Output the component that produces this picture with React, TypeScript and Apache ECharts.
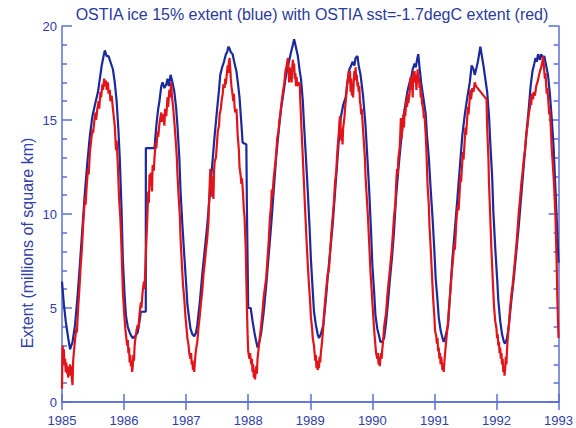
import React, { useEffect, useRef } from "react";
import * as echarts from "echarts";

const titleText = "OSTIA ice 15% extent (blue) with OSTIA sst=-1.7degC extent (red)";
const yAxisTitle = "Extent (millions of square km)";
const xTickLabels = ["1985", "1986", "1987", "1988", "1989", "1990", "1991", "1992", "1993"];
const yTickLabels = ["0", "5", "10", "15", "20"];

// OSTIA ice 15% extent (blue), [decimal year, millions of km²]
const iceExtent: [number, number][] = [
  [1985.00, 6.4], [1985.03, 5.2], [1985.06, 4.3], [1985.10, 3.4], [1985.13, 2.8], [1985.17, 3.2], [1985.21, 4.1], [1985.25, 5.6], [1985.29, 7.4], [1985.33, 9.3], [1985.37, 11.2], [1985.41, 12.8], [1985.45, 14.2], [1985.49, 15.2], [1985.53, 15.8], [1985.58, 16.5], [1985.61, 17.2], [1985.64, 17.9], [1985.67, 18.4], [1985.69, 18.7], [1985.72, 18.4], [1985.75, 18.4], [1985.78, 18.1], [1985.82, 17.7], [1985.85, 17.0], [1985.88, 16.0], [1985.91, 14.4], [1985.93, 13.0], [1985.96, 10.2], [1985.98, 7.6],
  [1986.01, 5.6], [1986.03, 4.6], [1986.06, 4.0], [1986.09, 3.7], [1986.12, 3.5], [1986.14, 3.4], [1986.18, 3.5], [1986.22, 3.7], [1986.25, 4.3], [1986.27, 4.8], [1986.35, 4.8], [1986.351, 13.5], [1986.49, 13.5], [1986.52, 14.7], [1986.55, 15.6], [1986.57, 16.0], [1986.60, 16.8], [1986.62, 17.0], [1986.65, 16.7], [1986.68, 16.9], [1986.70, 17.2], [1986.72, 16.8], [1986.75, 17.4], [1986.78, 17.0], [1986.81, 16.5], [1986.84, 15.6], [1986.86, 14.7], [1986.89, 13.0], [1986.91, 11.2], [1986.94, 9.4], [1986.97, 7.8],
  [1987.00, 6.3], [1987.02, 5.2], [1987.05, 4.4], [1987.07, 3.9], [1987.10, 3.6], [1987.13, 3.5], [1987.16, 3.7], [1987.18, 4.1], [1987.22, 5.3], [1987.26, 6.8], [1987.30, 8.1], [1987.34, 9.4], [1987.38, 11.0], [1987.42, 12.6], [1987.46, 14.2], [1987.50, 15.6], [1987.53, 16.6], [1987.55, 17.4], [1987.58, 17.8], [1987.61, 18.1], [1987.64, 18.5], [1987.66, 18.6], [1987.68, 18.9], [1987.70, 18.8], [1987.72, 18.6], [1987.75, 18.5], [1987.78, 18.0], [1987.81, 17.6], [1987.84, 16.8], [1987.86, 16.2], [1987.89, 14.8], [1987.91, 13.8], [1987.97, 13.7], [1987.98, 10.1],
  [1988.00, 5.0], [1988.04, 5.0], [1988.07, 4.3], [1988.10, 3.7], [1988.13, 3.2], [1988.15, 2.9], [1988.18, 3.2], [1988.21, 3.7], [1988.25, 4.8], [1988.29, 6.2], [1988.33, 7.8], [1988.37, 9.4], [1988.41, 11.2], [1988.45, 13.0], [1988.49, 14.4], [1988.53, 15.6], [1988.57, 16.5], [1988.61, 17.4], [1988.65, 18.0], [1988.69, 18.6], [1988.72, 19.0], [1988.74, 19.3], [1988.76, 19.0], [1988.78, 18.7], [1988.80, 18.4], [1988.83, 17.6], [1988.85, 17.2], [1988.88, 16.0], [1988.90, 14.7], [1988.93, 13.0], [1988.96, 11.2], [1988.99, 9.2],
  [1989.01, 7.6], [1989.04, 5.9], [1989.06, 4.8], [1989.09, 4.1], [1989.12, 3.6], [1989.14, 3.4], [1989.17, 3.6], [1989.21, 4.1], [1989.25, 5.4], [1989.28, 6.6], [1989.32, 8.0], [1989.36, 9.4], [1989.40, 11.2], [1989.44, 13.0], [1989.47, 14.4], [1989.49, 15.1], [1989.53, 15.8], [1989.57, 16.2], [1989.60, 17.0], [1989.63, 17.7], [1989.66, 17.9], [1989.68, 18.1], [1989.71, 17.9], [1989.73, 18.3], [1989.76, 18.4], [1989.78, 17.9], [1989.81, 17.4], [1989.85, 16.3], [1989.89, 14.7], [1989.92, 13.0], [1989.95, 11.2], [1989.98, 9.0],
  [1990.00, 7.3], [1990.03, 5.8], [1990.05, 4.6], [1990.08, 3.9], [1990.11, 3.5], [1990.13, 3.2], [1990.16, 3.2], [1990.19, 3.4], [1990.22, 4.2], [1990.25, 5.2], [1990.28, 6.4], [1990.32, 7.8], [1990.35, 9.1], [1990.38, 10.8], [1990.42, 12.4], [1990.46, 13.8], [1990.50, 15.1], [1990.54, 16.0], [1990.57, 16.6], [1990.60, 17.0], [1990.63, 17.3], [1990.65, 17.7], [1990.68, 18.0], [1990.70, 17.8], [1990.72, 18.2], [1990.74, 18.5], [1990.76, 17.8], [1990.79, 16.9], [1990.83, 16.0], [1990.86, 15.3], [1990.88, 14.2], [1990.91, 13.0], [1990.94, 11.3], [1990.97, 9.8],
  [1991.00, 8.0], [1991.02, 6.6], [1991.05, 5.4], [1991.07, 4.5], [1991.10, 3.8], [1991.13, 3.4], [1991.15, 3.2], [1991.18, 3.5], [1991.22, 4.1], [1991.25, 5.6], [1991.29, 7.6], [1991.33, 9.2], [1991.37, 10.8], [1991.41, 12.5], [1991.45, 14.2], [1991.49, 15.3], [1991.53, 16.2], [1991.57, 17.0], [1991.60, 17.9], [1991.63, 17.7], [1991.65, 17.4], [1991.68, 17.8], [1991.70, 18.1], [1991.72, 18.5], [1991.74, 18.9], [1991.76, 18.5], [1991.79, 17.9], [1991.82, 17.2], [1991.85, 16.5], [1991.88, 15.2], [1991.90, 13.8], [1991.93, 12.0], [1991.95, 10.1], [1991.98, 8.2],
  [1992.01, 6.6], [1992.03, 5.4], [1992.06, 4.3], [1992.09, 3.6], [1992.12, 3.2], [1992.14, 3.1], [1992.17, 3.4], [1992.20, 4.1], [1992.24, 5.4], [1992.28, 6.6], [1992.32, 8.0], [1992.36, 9.4], [1992.40, 11.0], [1992.44, 12.6], [1992.48, 14.2], [1992.52, 15.6], [1992.55, 16.8], [1992.58, 17.6], [1992.61, 18.0], [1992.63, 18.3], [1992.65, 18.1], [1992.67, 18.5], [1992.70, 18.2], [1992.72, 18.5], [1992.75, 18.3], [1992.77, 18.4], [1992.80, 17.9], [1992.83, 17.4], [1992.86, 16.4], [1992.89, 15.1], [1992.92, 13.6], [1992.94, 12.1], [1992.97, 9.8], [1993.00, 7.4],
];

// OSTIA sst = -1.7 degC extent (red), [decimal year, millions of km²]
const sstExtent: [number, number][] = [
  [1985.00, 0.7], [1985.005, 2.2], [1985.01, 3.0], [1985.02, 2.4], [1985.03, 2.8], [1985.04, 2.0], [1985.05, 2.3], [1985.06, 1.6], [1985.07, 2.1], [1985.08, 1.5], [1985.09, 1.9], [1985.10, 1.3], [1985.11, 1.8], [1985.12, 1.4], [1985.13, 2.0], [1985.14, 1.5], [1985.15, 1.9], [1985.16, 1.2], [1985.17, 0.9], [1985.18, 2.2], [1985.19, 2.6], [1985.21, 3.3], [1985.23, 3.9], [1985.24, 3.7], [1985.26, 5.0], [1985.28, 6.0], [1985.30, 7.2], [1985.32, 8.1], [1985.34, 9.4], [1985.36, 10.4], [1985.37, 10.9], [1985.38, 10.5], [1985.40, 11.6], [1985.42, 12.4], [1985.43, 12.1], [1985.45, 13.3], [1985.47, 13.9], [1985.49, 14.5], [1985.50, 14.3], [1985.52, 14.9], [1985.54, 15.4], [1985.55, 15.0], [1985.57, 15.6], [1985.59, 16.0], [1985.60, 15.6], [1985.62, 16.5], [1985.63, 16.2], [1985.65, 16.9], [1985.66, 16.6], [1985.68, 17.2], [1985.69, 16.8], [1985.71, 17.1], [1985.72, 16.6], [1985.74, 17.0], [1985.75, 16.4], [1985.77, 16.6], [1985.78, 16.0], [1985.80, 16.3], [1985.82, 15.6], [1985.84, 15.0], [1985.85, 14.7], [1985.87, 13.4], [1985.88, 13.9], [1985.90, 12.6], [1985.92, 10.8], [1985.94, 9.8], [1985.95, 9.0], [1985.97, 7.0], [1985.98, 5.9],
  [1986.00, 4.8], [1986.02, 3.9], [1986.03, 3.6], [1986.05, 3.0], [1986.06, 3.3], [1986.07, 2.6], [1986.08, 2.9], [1986.09, 2.1], [1986.10, 2.5], [1986.11, 1.9], [1986.12, 2.2], [1986.13, 1.6], [1986.14, 1.9], [1986.15, 2.5], [1986.16, 2.2], [1986.17, 3.0], [1986.18, 3.3], [1986.20, 3.8], [1986.22, 4.1], [1986.23, 3.9], [1986.25, 4.7], [1986.27, 5.3], [1986.28, 5.0], [1986.30, 5.9], [1986.32, 6.4], [1986.33, 6.0], [1986.35, 7.8], [1986.37, 9.4], [1986.38, 10.3], [1986.39, 11.2], [1986.40, 10.6], [1986.41, 12.1], [1986.42, 11.5], [1986.43, 12.2], [1986.45, 11.2], [1986.46, 12.6], [1986.48, 12.3], [1986.49, 13.0], [1986.51, 13.8], [1986.52, 13.5], [1986.54, 14.4], [1986.55, 14.1], [1986.57, 14.8], [1986.58, 15.0], [1986.60, 15.4], [1986.61, 14.9], [1986.63, 15.3], [1986.65, 14.7], [1986.66, 15.6], [1986.68, 15.2], [1986.70, 16.2], [1986.71, 15.7], [1986.73, 16.6], [1986.74, 16.2], [1986.76, 17.0], [1986.77, 16.3], [1986.79, 15.7], [1986.81, 14.9], [1986.83, 14.0], [1986.85, 13.0], [1986.86, 12.1], [1986.88, 10.9], [1986.90, 9.8], [1986.91, 8.7], [1986.93, 7.4], [1986.95, 6.2], [1986.97, 5.5], [1986.99, 4.5],
  [1987.01, 3.8], [1987.02, 3.4], [1987.04, 3.0], [1987.05, 2.6], [1987.07, 2.3], [1987.08, 2.6], [1987.09, 2.0], [1987.10, 2.2], [1987.11, 1.7], [1987.12, 2.0], [1987.13, 1.6], [1987.14, 2.1], [1987.15, 2.5], [1987.16, 2.8], [1987.18, 3.2], [1987.20, 4.0], [1987.22, 4.6], [1987.24, 5.3], [1987.26, 5.9], [1987.28, 6.8], [1987.30, 7.4], [1987.32, 8.1], [1987.34, 8.7], [1987.36, 9.6], [1987.37, 10.8], [1987.38, 11.6], [1987.39, 12.4], [1987.40, 11.3], [1987.41, 12.0], [1987.42, 10.9], [1987.43, 11.8], [1987.44, 10.8], [1987.45, 12.3], [1987.46, 12.8], [1987.48, 13.0], [1987.50, 13.9], [1987.51, 14.4], [1987.53, 14.7], [1987.54, 15.3], [1987.56, 15.6], [1987.57, 16.0], [1987.59, 16.4], [1987.60, 16.9], [1987.62, 16.7], [1987.63, 17.2], [1987.64, 16.9], [1987.66, 17.6], [1987.67, 17.9], [1987.68, 17.5], [1987.69, 18.1], [1987.70, 18.3], [1987.71, 17.8], [1987.72, 17.2], [1987.73, 16.8], [1987.75, 16.3], [1987.76, 16.0], [1987.77, 16.4], [1987.78, 15.7], [1987.79, 15.4], [1987.81, 15.6], [1987.82, 15.0], [1987.83, 14.2], [1987.85, 13.4], [1987.86, 12.5], [1987.88, 12.0], [1987.89, 11.6], [1987.90, 11.9], [1987.92, 10.9], [1987.93, 10.2], [1987.94, 9.9], [1987.96, 8.2], [1987.97, 6.5], [1987.98, 5.0], [1987.99, 3.6],
  [1988.00, 2.7], [1988.02, 2.3], [1988.03, 2.6], [1988.05, 2.0], [1988.06, 2.3], [1988.07, 1.6], [1988.08, 2.0], [1988.09, 1.3], [1988.10, 1.7], [1988.11, 1.2], [1988.12, 1.6], [1988.13, 1.9], [1988.14, 1.5], [1988.15, 2.3], [1988.17, 2.9], [1988.19, 3.5], [1988.21, 4.1], [1988.23, 4.8], [1988.25, 5.6], [1988.27, 6.1], [1988.29, 6.6], [1988.31, 7.6], [1988.33, 8.5], [1988.35, 9.8], [1988.37, 10.5], [1988.38, 11.3], [1988.39, 10.9], [1988.41, 11.9], [1988.42, 12.2], [1988.44, 12.8], [1988.45, 13.2], [1988.47, 14.1], [1988.49, 14.4], [1988.50, 14.9], [1988.52, 15.4], [1988.54, 16.0], [1988.56, 16.5], [1988.58, 16.9], [1988.60, 17.6], [1988.62, 17.9], [1988.64, 18.3], [1988.65, 17.6], [1988.66, 17.0], [1988.67, 17.8], [1988.68, 17.2], [1988.69, 17.6], [1988.70, 17.0], [1988.71, 17.8], [1988.72, 18.2], [1988.73, 17.6], [1988.74, 18.0], [1988.75, 17.2], [1988.76, 17.5], [1988.77, 16.8], [1988.78, 17.3], [1988.79, 16.8], [1988.81, 17.0], [1988.83, 16.9], [1988.84, 16.0], [1988.86, 14.4], [1988.88, 13.0], [1988.90, 11.5], [1988.92, 10.0], [1988.94, 8.6], [1988.96, 7.3], [1988.98, 6.2],
  [1989.00, 5.2], [1989.01, 4.5], [1989.03, 3.9], [1989.04, 3.4], [1989.06, 3.0], [1989.07, 2.6], [1989.08, 2.2], [1989.09, 2.5], [1989.10, 1.8], [1989.11, 2.2], [1989.12, 1.7], [1989.13, 2.1], [1989.14, 1.8], [1989.15, 2.4], [1989.16, 2.1], [1989.17, 2.6], [1989.19, 3.2], [1989.21, 4.0], [1989.22, 4.6], [1989.24, 5.4], [1989.26, 6.1], [1989.28, 6.8], [1989.30, 7.0], [1989.32, 8.0], [1989.34, 9.0], [1989.36, 9.8], [1989.38, 10.6], [1989.40, 11.7], [1989.42, 12.3], [1989.43, 13.0], [1989.44, 13.5], [1989.46, 14.3], [1989.47, 14.9], [1989.48, 15.2], [1989.49, 14.6], [1989.50, 13.9], [1989.51, 14.5], [1989.52, 13.7], [1989.53, 14.6], [1989.55, 15.1], [1989.56, 15.6], [1989.58, 16.3], [1989.59, 16.8], [1989.61, 17.3], [1989.62, 17.6], [1989.63, 17.0], [1989.64, 17.6], [1989.65, 16.5], [1989.66, 17.2], [1989.67, 16.3], [1989.68, 16.9], [1989.69, 16.2], [1989.70, 17.0], [1989.71, 17.6], [1989.72, 17.1], [1989.73, 17.8], [1989.74, 17.2], [1989.75, 17.4], [1989.76, 16.8], [1989.77, 17.0], [1989.78, 16.5], [1989.79, 16.8], [1989.80, 16.0], [1989.81, 15.8], [1989.82, 15.3], [1989.83, 15.6], [1989.84, 15.0], [1989.86, 14.0], [1989.88, 13.0], [1989.89, 12.0], [1989.91, 10.9], [1989.93, 9.8], [1989.95, 8.4], [1989.97, 6.9], [1989.99, 5.9],
  [1990.01, 4.8], [1990.03, 3.8], [1990.05, 3.0], [1990.06, 2.6], [1990.08, 2.3], [1990.09, 2.6], [1990.10, 2.0], [1990.11, 2.4], [1990.12, 1.9], [1990.13, 2.3], [1990.14, 2.6], [1990.15, 2.3], [1990.16, 2.8], [1990.17, 3.1], [1990.19, 4.0], [1990.21, 4.5], [1990.22, 4.7], [1990.24, 5.6], [1990.26, 6.3], [1990.27, 6.6], [1990.29, 7.3], [1990.31, 8.0], [1990.33, 8.9], [1990.35, 9.9], [1990.37, 10.5], [1990.38, 11.3], [1990.39, 12.0], [1990.40, 12.4], [1990.41, 12.1], [1990.42, 13.0], [1990.44, 13.5], [1990.45, 14.2], [1990.46, 15.1], [1990.47, 14.0], [1990.48, 14.4], [1990.49, 14.8], [1990.50, 15.3], [1990.51, 14.6], [1990.52, 15.6], [1990.53, 15.2], [1990.55, 16.1], [1990.56, 15.7], [1990.57, 16.4], [1990.58, 15.9], [1990.60, 16.4], [1990.61, 17.1], [1990.62, 17.3], [1990.63, 16.6], [1990.64, 17.1], [1990.65, 16.2], [1990.66, 17.6], [1990.67, 17.0], [1990.68, 17.6], [1990.69, 17.0], [1990.70, 17.4], [1990.71, 16.6], [1990.72, 17.2], [1990.73, 17.7], [1990.74, 17.0], [1990.75, 17.3], [1990.76, 16.7], [1990.77, 17.0], [1990.78, 16.2], [1990.79, 16.5], [1990.80, 15.9], [1990.82, 15.6], [1990.83, 15.1], [1990.84, 15.3], [1990.86, 14.2], [1990.87, 13.5], [1990.89, 11.5], [1990.91, 10.5], [1990.92, 9.4], [1990.94, 8.2], [1990.96, 6.8], [1990.98, 5.5],
  [1991.00, 4.5], [1991.01, 3.8], [1991.03, 3.5], [1991.04, 3.1], [1991.05, 3.4], [1991.06, 2.7], [1991.07, 2.9], [1991.08, 2.3], [1991.09, 2.6], [1991.10, 2.0], [1991.11, 2.4], [1991.12, 2.1], [1991.13, 1.7], [1991.14, 2.0], [1991.15, 1.6], [1991.16, 2.1], [1991.17, 2.5], [1991.18, 2.9], [1991.20, 3.6], [1991.22, 4.3], [1991.24, 5.2], [1991.26, 6.0], [1991.28, 6.9], [1991.30, 7.6], [1991.32, 8.4], [1991.33, 8.1], [1991.35, 9.4], [1991.36, 9.9], [1991.38, 10.5], [1991.39, 10.2], [1991.41, 11.4], [1991.42, 12.1], [1991.43, 11.7], [1991.45, 12.8], [1991.46, 13.3], [1991.47, 12.9], [1991.49, 14.0], [1991.50, 14.6], [1991.51, 14.2], [1991.53, 15.2], [1991.54, 15.7], [1991.55, 15.3], [1991.57, 16.2], [1991.58, 16.6], [1991.59, 16.1], [1991.61, 16.7], [1991.63, 16.5], [1991.65, 17.0], [1991.67, 16.8], [1991.84, 16.1], [1991.85, 14.6], [1991.87, 13.0], [1991.88, 11.6], [1991.90, 9.8], [1991.92, 8.0], [1991.94, 6.5], [1991.96, 5.1], [1991.98, 4.3],
  [1992.00, 3.9], [1992.01, 3.4], [1992.02, 3.6], [1992.03, 3.0], [1992.04, 3.2], [1992.05, 2.6], [1992.06, 2.9], [1992.07, 2.3], [1992.08, 2.6], [1992.09, 2.0], [1992.10, 2.3], [1992.11, 1.6], [1992.12, 1.9], [1992.13, 1.4], [1992.14, 1.8], [1992.15, 2.4], [1992.16, 2.0], [1992.17, 2.8], [1992.18, 3.3], [1992.20, 4.1], [1992.22, 5.0], [1992.24, 5.7], [1992.26, 6.2], [1992.28, 6.9], [1992.30, 7.6], [1992.32, 8.3], [1992.34, 9.2], [1992.36, 10.1], [1992.38, 10.8], [1992.40, 11.6], [1992.42, 12.2], [1992.44, 12.9], [1992.46, 13.4], [1992.48, 14.2], [1992.50, 14.7], [1992.52, 15.3], [1992.54, 15.7], [1992.55, 16.2], [1992.56, 15.8], [1992.57, 16.4], [1992.59, 16.1], [1992.60, 16.5], [1992.62, 16.3], [1992.64, 16.8], [1992.66, 17.0], [1992.68, 17.3], [1992.70, 17.6], [1992.72, 17.8], [1992.74, 18.1], [1992.75, 18.4], [1992.76, 18.0], [1992.77, 17.6], [1992.78, 17.2], [1992.79, 17.5], [1992.80, 16.9], [1992.81, 16.4], [1992.82, 16.7], [1992.84, 15.8], [1992.85, 15.3], [1992.86, 15.6], [1992.88, 14.3], [1992.89, 13.5], [1992.90, 13.0], [1992.92, 12.0], [1992.93, 11.4], [1992.95, 9.9], [1992.96, 8.6], [1992.97, 7.4], [1992.98, 5.6], [1992.99, 4.4], [1993.00, 3.4],
];

const AXIS_COLOR = "#5b6fd4";
const LABEL_COLOR = "#2f40aa";
const TITLE_COLOR = "#2a3a9e";
const BLUE = "#1a2a9c";
const RED = "#e2141a";
const FONT = "'Liberation Sans', Arial, Helvetica, sans-serif";

export default function App() {
  const ref = useRef<HTMLDivElement>(null);

  useEffect(() => {
    if (!ref.current) return;
    const chart = echarts.init(ref.current, undefined, { renderer: "svg" });
    const xFmt = (v: number) => xTickLabels[Math.round(v - 1985)] ?? "";
    const yFmt = (v: number) => yTickLabels[Math.round(v / 5)] ?? "";
    const tickStyle = { color: AXIS_COLOR, width: 1.5 };
    const lineStyle = { color: AXIS_COLOR, width: 1.5 };

    chart.setOption({
      animation: false,
      backgroundColor: "#ffffff",
      grid: { left: 62, right: 14, top: 26, bottom: 26, containLabel: false },
      graphic: [
        {
          type: "text",
          x: 312,
          y: 14,
          style: {
            text: titleText,
            fill: TITLE_COLOR,
            font: `16px ${FONT}`,
            textAlign: "center",
            textVerticalAlign: "middle",
          },
        },
        {
          type: "text",
          x: 27,
          y: 243,
          rotation: Math.PI / 2,
          style: {
            text: yAxisTitle,
            fill: LABEL_COLOR,
            font: `16px ${FONT}`,
            textAlign: "center",
            textVerticalAlign: "middle",
          },
        },
      ],
      xAxis: [
        {
          type: "value",
          min: 1985,
          max: 1993,
          interval: 1,
          position: "bottom",
          axisLine: { show: true, lineStyle },
          axisTick: { show: true, inside: true, length: 8, lineStyle: tickStyle },
          axisLabel: {
            show: true,
            formatter: xFmt,
            color: LABEL_COLOR,
            fontFamily: FONT,
            fontSize: 13,
            margin: 12,
          },
          splitLine: { show: false },
        },
        {
          type: "value",
          min: 1985,
          max: 1993,
          interval: 1,
          position: "top",
          axisLine: { show: true, lineStyle },
          axisTick: { show: true, inside: true, length: 8, lineStyle: tickStyle },
          axisLabel: { show: false },
          splitLine: { show: false },
        },
      ],
      yAxis: [
        {
          type: "value",
          min: 0,
          max: 20,
          interval: 5,
          position: "left",
          axisLine: { show: true, lineStyle },
          axisTick: { show: true, inside: true, length: 10, lineStyle: tickStyle },
          minorTick: { show: true, splitNumber: 5, length: 5, lineStyle: tickStyle },
          axisLabel: {
            show: true,
            formatter: yFmt,
            color: LABEL_COLOR,
            fontFamily: FONT,
            fontSize: 13,
            margin: 5,
          },
          splitLine: { show: false },
        },
        {
          type: "value",
          min: 0,
          max: 20,
          interval: 5,
          position: "right",
          axisLine: { show: true, lineStyle },
          axisTick: { show: true, inside: true, length: 10, lineStyle: tickStyle },
          minorTick: { show: true, splitNumber: 5, length: 5, lineStyle: tickStyle },
          axisLabel: { show: false },
          splitLine: { show: false },
        },
      ],
      series: [
        {
          name: "OSTIA ice 15% extent",
          type: "line",
          data: iceExtent,
          showSymbol: false,
          symbol: "none",
          lineStyle: { color: BLUE, width: 2.2 },
          z: 2,
        },
        {
          name: "OSTIA sst=-1.7degC extent",
          type: "line",
          data: sstExtent,
          showSymbol: false,
          symbol: "none",
          lineStyle: { color: RED, width: 2.2 },
          z: 3,
        },
      ],
    });
    return () => chart.dispose();
  }, []);

  return (
    <div
      ref={ref}
      style={{ position: "absolute", left: 0, top: 0, width: 576, height: 428 }}
    />
  );
}
